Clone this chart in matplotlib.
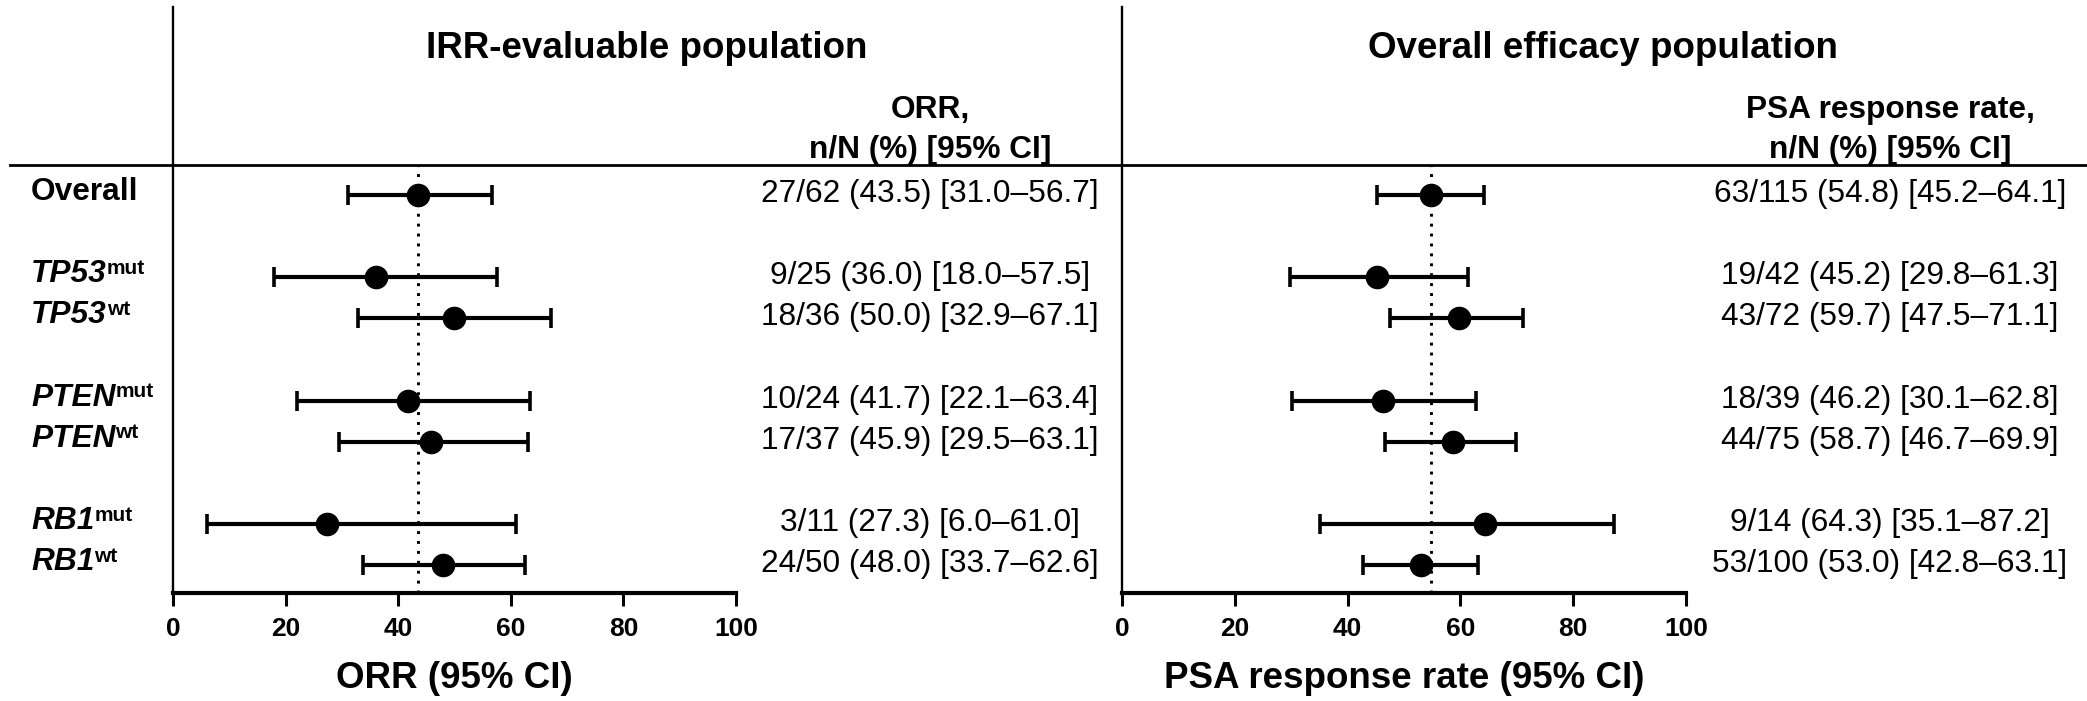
import matplotlib
matplotlib.use("Agg")
import matplotlib.pyplot as plt
from matplotlib.lines import Line2D
from matplotlib.transforms import blended_transform_factory, offset_copy

plt.rcParams['font.family'] = ['Liberation Sans', 'DejaVu Sans']

# rows
genes = ["Overall", "TP53", "TP53", "PTEN", "PTEN", "RB1", "RB1"]
status = ["", "mut", "wt", "mut", "wt", "mut", "wt"]
row_pos = [0, 2, 3, 5, 6, 8, 9]

# IRR-evaluable population (ORR)
orr_n = [27, 9, 18, 10, 17, 3, 24]
orr_N = [62, 25, 36, 24, 37, 11, 50]
orr_rate = [43.5, 36.0, 50.0, 41.7, 45.9, 27.3, 48.0]
orr_lo = [31.0, 18.0, 32.9, 22.1, 29.5, 6.0, 33.7]
orr_hi = [56.7, 57.5, 67.1, 63.4, 63.1, 61.0, 62.6]

# Overall efficacy population (PSA response)
psa_n = [63, 19, 43, 18, 44, 9, 53]
psa_N = [115, 42, 72, 39, 75, 14, 100]
psa_rate = [54.8, 45.2, 59.7, 46.2, 58.7, 64.3, 53.0]
psa_lo = [45.2, 29.8, 47.5, 30.1, 46.7, 35.1, 42.8]
psa_hi = [64.1, 61.3, 71.1, 62.8, 69.9, 87.2, 63.1]

W, H = 2087, 701
fig = plt.figure(figsize=(W / 100, H / 100), dpi=100)

unit = (565 - 195) / 9.0
y_top = (165 - 195) / unit
y_bot = (593 - 195) / unit
ax_h = 593 - 165

panels = [
    dict(left=173, width=563, col=930, title_x=647,
         title="IRR-evaluable population", head1="ORR,", xlabel="ORR (95% CI)",
         n=orr_n, N=orr_N, rate=orr_rate, lo=orr_lo, hi=orr_hi),
    dict(left=1122, width=564, col=1890, title_x=1603,
         title="Overall efficacy population", head1="PSA response rate,",
         xlabel="PSA response rate (95% CI)",
         n=psa_n, N=psa_N, rate=psa_rate, lo=psa_lo, hi=psa_hi),
]

axes = []
for p in panels:
    ax = fig.add_axes([p['left'] / W, 1 - 593 / H, p['width'] / W, ax_h / H])
    axes.append(ax)
    ax.set_xlim(0, 100)
    ax.set_ylim(y_bot, y_top)
    ax.set_yticks([])
    ax.set_xticks(range(0, 101, 20))
    for s in ['top', 'right', 'left']:
        ax.spines[s].set_visible(False)
    ax.spines['bottom'].set_linewidth(3)
    ax.tick_params(axis='x', length=9.5, width=2.2, pad=8, labelsize=19)
    for lab in ax.get_xticklabels():
        lab.set_fontweight('bold')
    ax.patch.set_alpha(0)

    # vertical divider running up to the top
    ax.plot([0, 0], [0, (593 - 7) / ax_h], transform=ax.transAxes,
            color='black', lw=1.7, clip_on=False)

    # reference line at overall value
    ax.axvline(p['rate'][0], color='black', lw=2.1, ls=(0, (1, 2.4)), zorder=1)

    xerr = [[r - l for r, l in zip(p['rate'], p['lo'])],
            [h - r for r, h in zip(p['rate'], p['hi'])]]
    ax.errorbar(p['rate'], row_pos, xerr=xerr, fmt='o', color='black',
                ms=16, elinewidth=3, capsize=7.5, capthick=2.6,
                clip_on=False, zorder=3)

    ax.set_xlabel(p['xlabel'], fontsize=26.5, fontweight='bold')
    ax.xaxis.set_label_coords(0.5, -(679 - 593) / ax_h)
    ax.xaxis.label.set_va('center')

    fig.text(p['title_x'] / W, 1 - 58 / H, p['title'], ha='center',
             va='baseline', fontsize=26.5, fontweight='bold')
    fig.text(p['col'] / W, 1 - 118 / H, p['head1'], ha='center',
             va='baseline', fontsize=22.8, fontweight='bold')
    fig.text(p['col'] / W, 1 - 158 / H, "n/N (%) [95% CI]", ha='center',
             va='baseline', fontsize=22.8, fontweight='bold')

    tr = blended_transform_factory(fig.transFigure, ax.transData)
    for i, y in enumerate(row_pos):
        s = f"{p['n'][i]}/{p['N'][i]} ({p['rate'][i]:.1f}) [{p['lo'][i]:.1f}\u2013{p['hi'][i]:.1f}]"
        ax.text(p['col'] / W, y + 7 / unit, s, transform=tr, ha='center',
                va='baseline', fontsize=22.8)

# row labels on the left
trL = blended_transform_factory(fig.transFigure, axes[0].transData)
main_texts = []
for g, st, y in zip(genes, status, row_pos):
    t = fig.text(31 / W, y + 5 / unit, g, transform=trL, ha='left',
                 va='baseline', fontsize=22.8, fontweight='bold',
                 fontstyle='normal' if st == "" else 'italic')
    main_texts.append((t, st, y))

fig.canvas.draw()
renderer = fig.canvas.get_renderer()
trSup = offset_copy(trL, fig=fig, x=0, y=6, units='points')
for t, st, y in main_texts:
    if st:
        bb = t.get_window_extent(renderer)
        fig.text(bb.x1 / W, y + 5 / unit, st, transform=trSup, ha='left',
                 va='baseline', fontsize=15, fontweight='bold')

# header rule
fig.add_artist(Line2D([10 / W, 1], [1 - 165 / H, 1 - 165 / H],
                      transform=fig.transFigure, color='black', lw=2))

fig.savefig('out.png', dpi=100)
